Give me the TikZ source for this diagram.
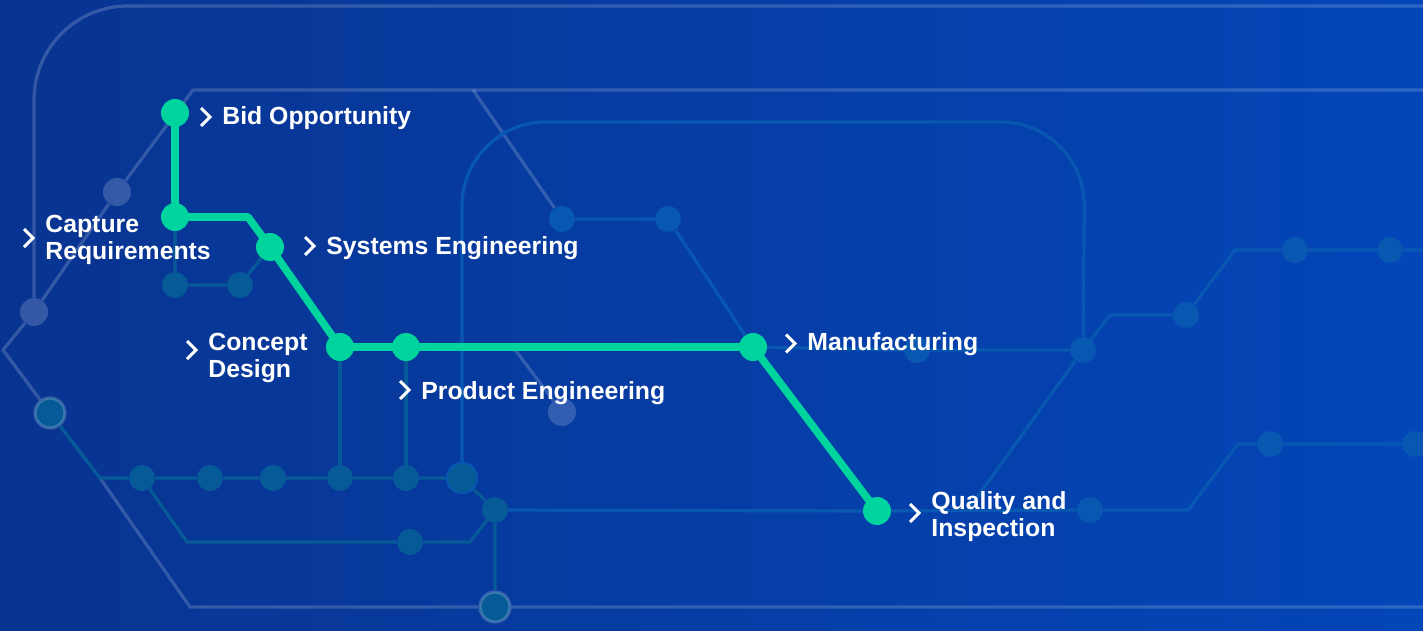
\documentclass[tikz,border=0pt]{standalone}
\usepackage{fontspec}
\setmainfont{Liberation Sans}
\usetikzlibrary{positioning, backgrounds}

\definecolor{bgleft}{RGB}{8,52,145}
\definecolor{bgright}{RGB}{3,70,184}
\definecolor{mint}{RGB}{0,212,158}
\definecolor{railblue}{RGB}{8,88,178}
\definecolor{railteal}{RGB}{7,90,152}

\tikzset{
	rail/.style={line width=1.6pt, line join=round},
	greyrail/.style={rail, draw=white, draw opacity=.18},
	bluerail/.style={rail, draw=railblue},
	tealrail/.style={rail, draw=railteal},
	greydot/.style={circle, fill=white, fill opacity=.18, minimum size=14pt, inner sep=0},
	bluedot/.style={circle, fill=railblue, minimum size=13pt, inner sep=0},
	tealdot/.style={circle, fill=railteal, minimum size=13pt, inner sep=0},
	ringdot/.style={tealdot, draw=white, draw opacity=.2, line width=1.6pt, minimum size=15pt},
	station/.style={circle, fill=mint, minimum size=14pt, inner sep=0},
	mainline/.style={draw=mint, line width=3.8pt, line join=round},
	tag/.style={anchor=west, inner sep=0, align=left, text=white,
		font=\bfseries\fontsize{12.4}{13.5}\selectfont},
	chevline/.style={draw=white, line width=1.5pt},
}

% chevron in front of a label: node, vertical offset
\newcommand\chev[2]{\draw[chevline] ([shift={(-21,#2-9)}]#1.west) -- ++(9,9) -- ++(-9,9);}

\begin{document}
\begin{tikzpicture}[x=0.5pt, y=-0.5pt]
	\useasboundingbox (0,0) rectangle (1423,631);
	\clip (0,0) rectangle (1423,631);

	% stations of the main line
	\node[station] (bid) at (175,113) {};
	\node[station] (cap) at (175,217) {};
	\node[station] (sys) at (270,247) {};
	\node[station] (con) at (340,347) {};
	\node[station] (prod) at (406,347) {};
	\node[station] (man) at (753,347) {};
	\node[station] (qual) at (877,511) {};

	% faint stops
	\node[greydot] (ga) at (117,192) {};
	\node[greydot] (gb) at (34,312) {};
	\node[greydot] (gc) at (562,412) {};
	\node[ringdot] (ra) at (50,413) {};
	\node[ringdot] (rb) at (495,607) {};

	\node[tealdot] (ta) at (175,285) {};
	\node[tealdot] (tb) at (240,285) {};
	\node[tealdot] (tc) at (142,478) {};
	\node[tealdot] (td) at (210,478) {};
	\node[tealdot] (te) at (273,478) {};
	\node[tealdot] (tf) at (340,478) {};
	\node[tealdot] (tg) at (406,478) {};
	\node[tealdot, draw=railblue, line width=1pt, minimum size=15pt] (th) at (462,478) {};
	\node[tealdot] (ti) at (495,510) {};
	\node[tealdot] (tj) at (410,542) {};

	\node[bluedot] (ba) at (562,219) {};
	\node[bluedot] (bb) at (668,219) {};
	\node[bluedot] (bc) at (917,350) {};
	\node[bluedot] (bd) at (1083,350) {};
	\node[bluedot] (be) at (1186,315) {};
	\node[bluedot] (bf) at (1295,250) {};
	\node[bluedot] (bg) at (1390,250) {};
	\node[bluedot] (bh) at (1090,510) {};
	\node[bluedot] (bi) at (1270,444) {};
	\node[bluedot] (bj) at (1415,444) {};

	\coordinate (capbend) at (248,217);
	\coordinate (tstart) at (100,478);
	\coordinate (tlowa) at (187,542);
	\coordinate (tlowb) at (470,542);

	\begin{scope}[on background layer]
		\shade[left color=bgleft, right color=bgright] (0,0) rectangle (1423,631);

		% grey lines
		\draw[greyrail, rounded corners=47pt] (1430,6) -- (34,6) -- (gb);
		\draw[greyrail] (1430,90) -- (193,90) -- (ga) -- (gb);
		\draw[greyrail] (gb) -- (3,350) -- (ra);
		\draw[greyrail] (tstart) -- (190,607) -- (rb) -- (1430,607);
		\draw[greyrail] (473,90) -- (ba);
		\draw[greyrail] (513,347) -- (gc);

		% teal lines
		\draw[tealrail] (ra) -- (tstart) -- (tc) -- (td) -- (te) -- (tf) -- (tg) -- (th) -- (ti);
		\draw[tealrail] (tc) -- (tlowa) -- (tj) -- (tlowb) -- (ti) -- (rb);
		\draw[tealrail] (con) -- (tf);
		\draw[tealrail] (prod) -- (tg);
		\draw[tealrail] (cap) -- (ta) -- (tb) -- (sys);

		% blue lines
		\draw[bluerail, rounded corners=42pt] (th) -- (462,122) -- (1085,122) -- (bd);
		\draw[bluerail] (ba) -- (bb) -- (man) -- (bc) -- (bd);
		\draw[bluerail] (bd) -- (1110,315) -- (be) -- (1235,250) -- (bf) -- (bg) -- (1430,250);
		\draw[bluerail] (bd) -- (968,510);
		\draw[bluerail] (ti) -- (qual) -- (bh) -- (1188,510) -- (1238,444) -- (bi) -- (bj) -- (1430,444);

		% main line
		\draw[mainline] (bid.center) -- (cap.center) -- (capbend) -- (sys.center)
			-- (con.center) -- (prod.center) -- (man.center) -- (qual.center);
	\end{scope}

	% labels
	\node[tag] (bidtxt) at (222,118.5) {Bid Opportunity};
	\node[tag] (captxt) at (45,240) {Capture\\Requirements};
	\node[tag] (systxt) at (326,248.5) {Systems Engineering};
	\node[tag] (context) at (208,357.5) {Concept\\Design};
	\node[tag] (prodtxt) at (421,393) {Product Engineering};
	\node[tag] (mantxt) at (807,344.5) {Manufacturing};
	\node[tag] (qualtxt) at (931,517) {Quality and\\Inspection};

	\chev{bidtxt}{-1.5}
	\chev{captxt}{-2}
	\chev{systxt}{-2.5}
	\chev{context}{-7.5}
	\chev{prodtxt}{-3}
	\chev{mantxt}{-1}
	\chev{qualtxt}{-4}
\end{tikzpicture}
\end{document}
